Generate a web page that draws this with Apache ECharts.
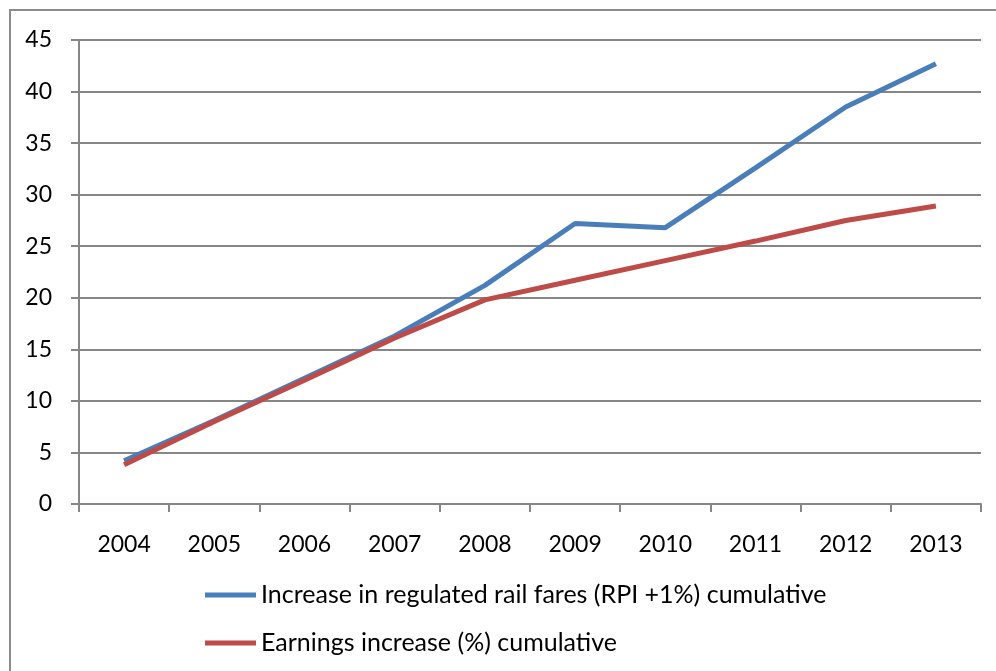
<!DOCTYPE html>
<html>
<head>
<meta charset="utf-8">
<script src="https://cdn.jsdelivr.net/npm/echarts@6/dist/echarts.min.js"></script>
<style>
  html, body { margin: 0; padding: 0; background: #fff; }
  #chart { width: 996px; height: 671px; }
</style>
</head>
<body>
<div id="chart"></div>
<script>
// years on the x axis
const years = ['2004', '2005', '2006', '2007', '2008', '2009', '2010', '2011', '2012', '2013']

// cumulative increases (%)
const railFares = [4.2, 8.1, 12.2, 16.3, 21.2, 27.2, 26.8, 32.6, 38.5, 42.7]
const earnings = [3.8, 8.0, 12.0, 16.1, 19.8, 21.7, 23.6, 25.5, 27.5, 28.9]

const seriesNames = [
  'Increase in regulated rail fares (RPI +1%) cumulative',
  'Earnings increase (%) cumulative'
]

const fontFamily = 'Lato, "Open Sans", sans-serif'

const chart = echarts.init(document.getElementById('chart'))

const option = {
  animation: false,
  color: ['#4a7ebb', '#be4b48'],
  textStyle: { fontFamily: fontFamily, color: '#000' },
  graphic: [
    {
      type: 'rect',
      shape: { x: 10, y: 10, width: 1000, height: 700 },
      style: { fill: 'none', stroke: '#8c8c8c', lineWidth: 2 },
      silent: true
    }
  ],
  grid: { left: 79, right: 15, top: 40, bottom: 167 },
  legend: {
    orient: 'vertical',
    left: 205,
    top: 581,
    padding: 0,
    itemWidth: 51,
    itemHeight: 5,
    itemGap: 20,
    icon: 'rect',
    data: seriesNames,
    textStyle: { fontSize: 25, color: '#000', fontFamily: fontFamily, lineHeight: 28 }
  },
  xAxis: {
    type: 'category',
    data: years,
    boundaryGap: true,
    axisLine: { lineStyle: { color: '#868686', width: 2 } },
    axisTick: { show: true, length: 8, alignWithLabel: false, lineStyle: { color: '#868686', width: 2 } },
    axisLabel: { fontSize: 23, color: '#000', margin: 29, fontFamily: fontFamily },
    splitLine: { show: false }
  },
  yAxis: {
    type: 'value',
    min: 0,
    max: 45,
    interval: 5,
    axisLine: { show: true, lineStyle: { color: '#868686', width: 2 } },
    axisTick: { show: true, length: 8, lineStyle: { color: '#868686', width: 2 } },
    axisLabel: { fontSize: 23, color: '#000', margin: 27, fontFamily: fontFamily },
    splitLine: { lineStyle: { color: '#868686', width: 2 } }
  },
  series: [
    {
      name: seriesNames[0],
      type: 'line',
      data: railFares,
      symbol: 'none',
      lineStyle: { width: 5 },
      z: 2
    },
    {
      name: seriesNames[1],
      type: 'line',
      data: earnings,
      symbol: 'none',
      lineStyle: { width: 5 },
      z: 3
    }
  ]
}

chart.setOption(option)
</script>
</body>
</html>
